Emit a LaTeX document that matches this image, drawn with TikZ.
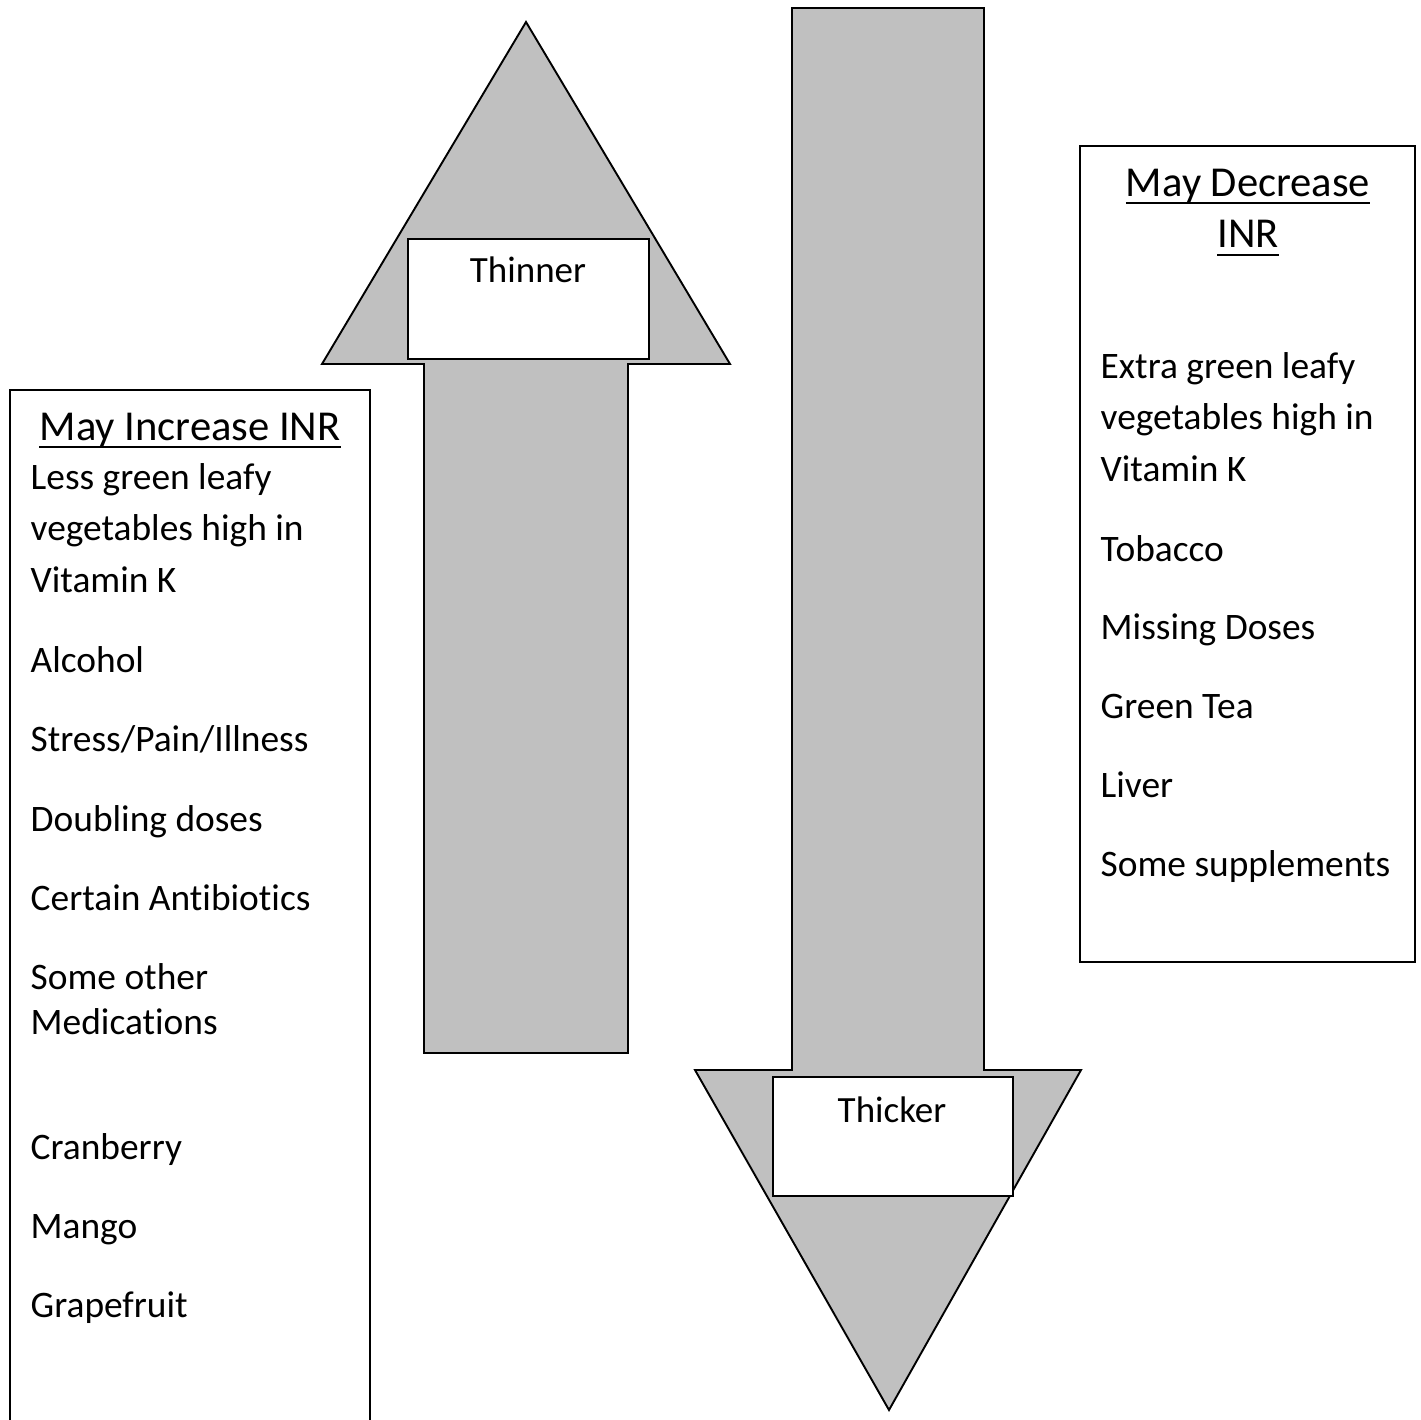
\documentclass[tikz,border=0pt]{standalone}
\usepackage{fontspec}
\setmainfont{Carlito}[Ligatures={NoCommon}]
\definecolor{arrowgray}{HTML}{C0C0C0}
\begin{document}
\begin{tikzpicture}[x=1pt,y=-1pt,
  arrowshape/.style={fill=arrowgray, draw=black, line width=1.9pt, line join=miter},
  whitebox/.style={draw=black, fill=white, line width=1.9pt, inner sep=0pt, anchor=north west},
  listbox/.style={draw=black, line width=2pt},
  bodytext/.style={anchor=base west, inner sep=0pt, font=\fontsize{37.4}{44}\selectfont},
  labeltext/.style={anchor=base, inner sep=0pt, font=\fontsize{37}{44}\selectfont},
  titletext/.style={anchor=base, inner sep=0pt, font=\fontsize{42.6}{50}\selectfont},
  uline/.style={draw=black, line width=2pt}
]
\useasboundingbox (0,0) rectangle (1421,1420);

% up arrow
\draw[arrowshape] (526,22) -- (730,364) -- (628,364) -- (628,1053) -- (424,1053) -- (424,364) -- (322,364) -- cycle;
% down arrow
\draw[arrowshape] (792,8) -- (984,8) -- (984,1070) -- (1081,1070) -- (889,1410) -- (695,1070) -- (792,1070) -- cycle;

% label boxes
\node[whitebox, minimum width=241pt, minimum height=120pt] (thinbox) at (407,238) {};
\node[labeltext] (thinner) at (528,283) {Thinner};
\node[whitebox, minimum width=240pt, minimum height=119pt] (thickbox) at (772,1076) {};
\node[labeltext] (thicker) at (892,1122) {Thicker};

% left list box
\draw[listbox] (10,1421) -- (10,390) -- (370,390) -- (370,1421);
\node[titletext] (inctitle) at (190,440) {May Increase INR};
\draw[uline] ([yshift=-7pt]inctitle.base west) -- ([yshift=-7pt]inctitle.base east);
\node[bodytext] (l1) at (30.5,489) {Less green leafy};
\node[bodytext] (l2) at (30.5,540) {vegetables high in};
\node[bodytext] (l3) at (30.5,592) {Vitamin K};
\node[bodytext] (l4) at (30.5,672) {Alcohol};
\node[bodytext] (l5) at (30.5,751) {Stress/Pain/Illness};
\node[bodytext] (l6) at (30.5,831) {Doubling doses};
\node[bodytext] (l7) at (30.5,910) {Certain Antibiotics};
\node[bodytext] (l8) at (30.5,989) {Some other};
\node[bodytext] (l9) at (30.5,1034) {Medications};
\node[bodytext] (l10) at (30.5,1159) {Cranberry};
\node[bodytext] (l11) at (30.5,1238) {Mango};
\node[bodytext] (l12) at (30.5,1317) {Grapefruit};

% right list box
\draw[listbox] (1080,146) rectangle (1415,962);
\node[titletext] (dectitle1) at (1248,197) {May Decrease};
\draw[uline] ([yshift=-6pt]dectitle1.base west) -- ([yshift=-6pt]dectitle1.base east);
\node[titletext] (dectitle2) at (1248,248) {INR};
\draw[uline] ([yshift=-7pt]dectitle2.base west) -- ([yshift=-7pt]dectitle2.base east);
\node[bodytext] (r1) at (1100.5,378) {Extra green leafy};
\node[bodytext] (r2) at (1100.5,429) {vegetables high in};
\node[bodytext] (r3) at (1100.5,481) {Vitamin K};
\node[bodytext] (r4) at (1100.5,561) {Tobacco};
\node[bodytext] (r5) at (1100.5,639) {Missing Doses};
\node[bodytext] (r6) at (1100.5,718) {Green Tea};
\node[bodytext] (r7) at (1100.5,797) {Liver};
\node[bodytext] (r8) at (1100.5,876) {Some supplements};
\end{tikzpicture}
\end{document}
